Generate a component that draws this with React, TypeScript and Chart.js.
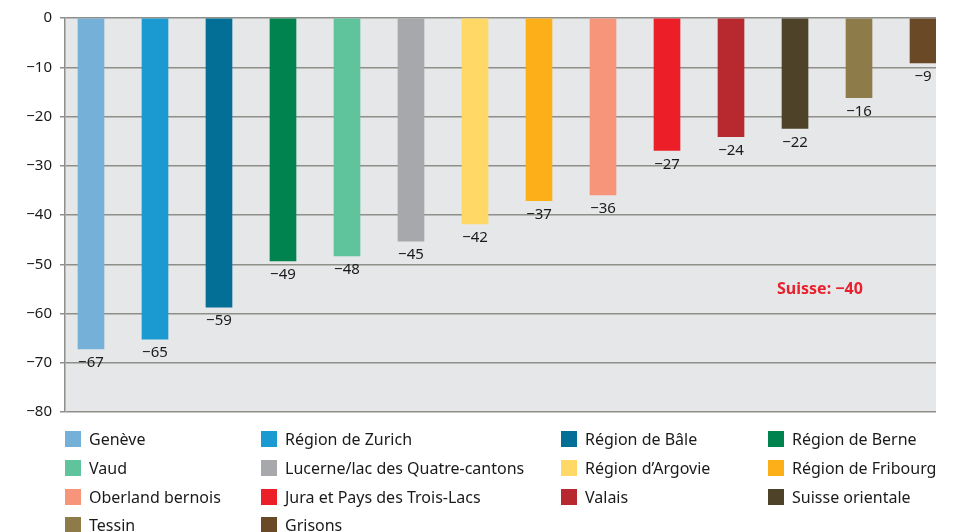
import React, { useEffect, useRef } from "react";
import { Chart, registerables } from "chart.js";

Chart.register(...registerables);

const categories = [
  "Genève",
  "Région de Zurich",
  "Région de Bâle",
  "Région de Berne",
  "Vaud",
  "Lucerne/lac des Quatre-cantons",
  "Région d’Argovie",
  "Région de Fribourg",
  "Oberland bernois",
  "Jura et Pays des Trois-Lacs",
  "Valais",
  "Suisse orientale",
  "Tessin",
  "Grisons",
];

const values = [-67.2, -65.2, -58.7, -49.3, -48.3, -45.3, -41.8, -37.1, -35.9, -26.9, -24.1, -22.4, -16.2, -9.1];

const colors = [
  "#75b0d9",
  "#1a9ad0",
  "#036f96",
  "#00834f",
  "#5fc49c",
  "#a7a8ab",
  "#ffd866",
  "#fdaf1a",
  "#f7957a",
  "#ec1f28",
  "#b7282f",
  "#4e4329",
  "#8e7b4a",
  "#6a4a26",
];

const yTicks = [0, -10, -20, -30, -40, -50, -60, -70, -80];
const suisseLabel = "Suisse";
const suisseValue = -40;

const FONT = "'Noto Sans', sans-serif";
const TEXT = "#1a1a1a";
const GRID = "#8e8e8a";

const fmt = (v: number) => {
  const r = Math.round(v);
  return r === 0 ? "0" : (r < 0 ? "\u2212" : "") + Math.abs(r);
};

const legendCols = [65, 261, 561, 768];
const legendRows = [439, 468, 497, 525];

export default function App() {
  const ref = useRef<HTMLCanvasElement | null>(null);

  useEffect(() => {
    if (!ref.current) return;
    const bgPlugin = {
      id: "bgPlugin",
      beforeDraw(chart: any) {
        const { ctx, chartArea } = chart;
        ctx.save();
        ctx.fillStyle = "#e6e7e9";
        ctx.fillRect(chartArea.left, chartArea.top, chartArea.right - chartArea.left, chartArea.bottom - chartArea.top);
        ctx.restore();
      },
    };
    const labelPlugin = {
      id: "labelPlugin",
      afterDatasetsDraw(chart: any) {
        const { ctx } = chart;
        const meta = chart.getDatasetMeta(0);
        ctx.save();
        ctx.font = `15px ${FONT}`;
        ctx.fillStyle = TEXT;
        ctx.textAlign = "center";
        ctx.textBaseline = "middle";
        meta.data.forEach((bar: any, i: number) => {
          ctx.fillText(fmt(values[i]), bar.x, bar.y + 14);
        });
        const xs = chart.scales.x;
        const ys = chart.scales.y;
        ctx.font = `bold 16px ${FONT}`;
        ctx.fillStyle = "#e8212e";
        ctx.fillText(`${suisseLabel}: ${fmt(suisseValue)}`, xs.getPixelForValue(11.39), ys.getPixelForValue(-55.2));
        ctx.restore();
      },
    };

    const chart = new Chart(ref.current, {
      type: "bar",
      data: {
        labels: categories,
        datasets: [
          {
            data: values.map((v, i) => ({ x: i, y: v })),
            backgroundColor: colors,
            barThickness: 26,
            borderWidth: 0,
          },
        ],
      },
      options: {
        responsive: false,
        animation: false,
        layout: { padding: { left: 0, top: 18, right: 23, bottom: 120 } },
        plugins: {
          legend: { display: false },
          tooltip: { enabled: false },
        },
        scales: {
          x: {
            type: "linear",
            display: false,
            offset: false,
            bounds: "data",
            min: -0.406,
            max: 13.203,
          },
          y: {
            min: -80,
            max: 0,
            afterFit(scale: any) {
              scale.width = 65;
            },
            afterBuildTicks(scale: any) {
              scale.ticks = yTicks.map((v) => ({ value: v }));
            },
            ticks: {
              padding: 8,
              color: TEXT,
              font: { family: FONT, size: 15 },
              callback: (v: any) => fmt(Number(v)),
            },
            grid: {
              color: GRID,
              lineWidth: 1.5,
              tickLength: 5,
              drawTicks: true,
            },
            border: { display: true, color: GRID, width: 1.5 },
          },
        },
      },
      plugins: [bgPlugin, labelPlugin],
    });
    return () => chart.destroy();
  }, []);

  return (
    <div style={{ position: "fixed", left: 0, top: 0, width: 959, height: 532, background: "#fff" }}>
      <canvas ref={ref} width={959} height={532} style={{ position: "absolute", left: 0, top: 0 }} />
      {categories.map((c, i) => {
        const col = i % 4;
        const row = Math.floor(i / 4);
        return (
          <div
            key={c}
            style={{
              position: "absolute",
              left: legendCols[col],
              top: legendRows[row] - 10,
              height: 20,
              display: "flex",
              alignItems: "center",
              fontFamily: FONT,
              fontSize: 16,
              color: TEXT,
              whiteSpace: "nowrap",
            }}
          >
            <span style={{ display: "inline-block", width: 16, height: 16, background: colors[i], marginRight: 8, flexShrink: 0 }} />
            <span>{c}</span>
          </div>
        );
      })}
    </div>
  );
}
